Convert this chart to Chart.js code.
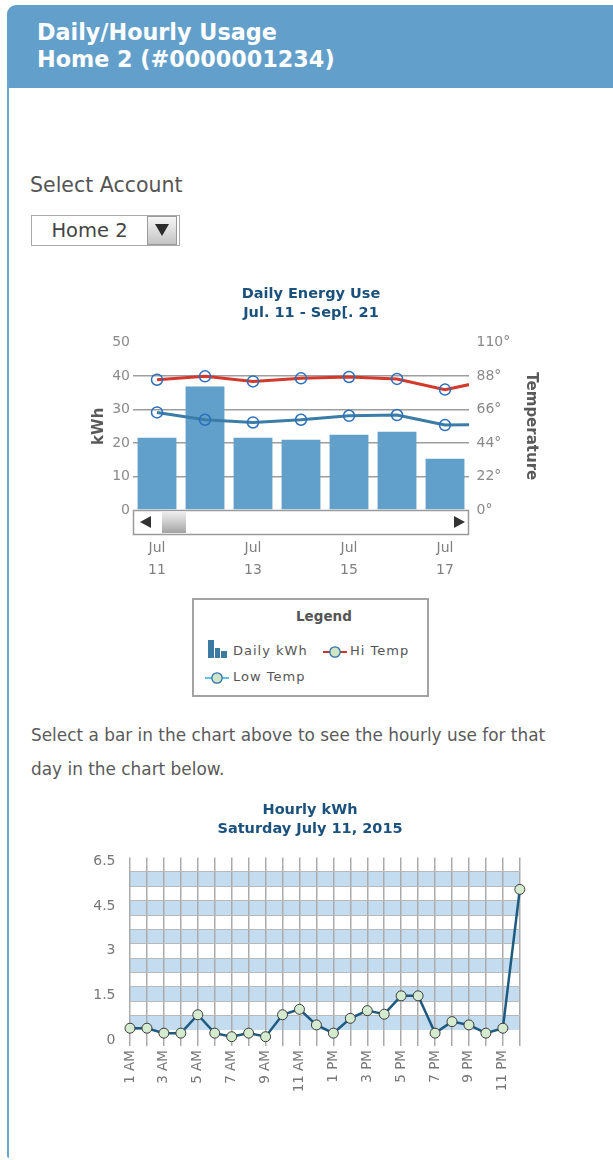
<!DOCTYPE html>
<html>
<head>
<meta charset="utf-8">
<title>Daily/Hourly Usage</title>
<script src="https://cdn.jsdelivr.net/npm/chart.js@4.4.1/dist/chart.umd.min.js"></script>
<style>
  body { margin: 0; width: 613px; height: 1160px; overflow: hidden; background: #fff; font-family: 'DejaVu Sans', Verdana, sans-serif; position: relative; }
  .abs { position: absolute; white-space: nowrap; }
  #header { left: 7px; top: 5px; width: 606px; height: 83px; background: #62a0cb; border-top-left-radius: 9px; }
  #rail { left: 7px; top: 80px; width: 2px; height: 1078px; background: #6aa5cf; border-bottom-left-radius: 3px; }
  #heading { left: 37px; top: 18.5px; color: #fff; font-weight: bold; font-size: 22.3px; line-height: 27px; }
  #selectLabel { left: 30px; top: 170px; font-size: 20.5px; line-height: 30px; color: #555; }
  #select { left: 31px; top: 215px; width: 147px; height: 29px; border: 1px solid #aaa; background: #fff; }
  #select .val { position: absolute; left: 0; top: 0; width: 115px; text-align: center; line-height: 29px; font-size: 19.5px; color: #444; }
  #select .btn { position: absolute; left: 115px; top: 0; width: 28px; height: 27px; border: 1px solid #9a9a9a; background: linear-gradient(#f6f6f6, #c4c4c4); }
  #select .btn i { position: absolute; left: 7px; top: 7px; width: 0; height: 0; border-left: 7px solid transparent; border-right: 7px solid transparent; border-top: 12px solid #2b2b2b; }
  #legend { left: 192px; top: 598px; width: 233px; height: 95px; border: 2px solid #a3a3a3; }
  #legendTitle { left: 296px; top: 607px; font-size: 13.5px; font-weight: bold; line-height: 18px; color: #555; }
  .lg { font-size: 13px; letter-spacing: 1px; line-height: 18px; color: #555; }
  #hint { left: 31px; top: 718px; font-size: 16.9px; line-height: 34px; color: #5a5a5a; }
  canvas { position: absolute; }
</style>
</head>
<body>
<div class="abs" id="header"></div>
<div class="abs" id="rail"></div>
<div class="abs" id="heading">Daily/Hourly Usage<br>Home 2 (#0000001234)</div>

<div class="abs" id="selectLabel">Select Account</div>
<div class="abs" id="select"><div class="val">Home 2</div><div class="btn"><i></i></div></div>

<canvas id="dailyChart" width="458" height="310" style="left:82px;top:280px"></canvas>

<div class="abs" id="legend"></div>
<div class="abs" id="legendTitle">Legend</div>
<svg class="abs" style="left:208px;top:640px" width="19" height="18">
  <rect x="0" y="0" width="6" height="18" fill="#3d7aa2"/>
  <rect x="7" y="8" width="5" height="10" fill="#3d7aa2"/>
  <rect x="13" y="11" width="6" height="7" fill="#3d7aa2"/>
</svg>
<div class="abs lg" style="left:233px;top:642px" data-ds="2"></div>
<svg class="abs" style="left:323px;top:645px" width="24" height="14">
  <line x1="0" y1="7" x2="24" y2="7" stroke="#c8372b" stroke-width="2"/>
  <circle cx="12" cy="7" r="5.2" fill="#cfe6c6" stroke="#2c6eae" stroke-width="1.3"/>
</svg>
<div class="abs lg" style="left:350px;top:642px" data-ds="0"></div>
<svg class="abs" style="left:205px;top:671px" width="24" height="14">
  <line x1="0" y1="7" x2="24" y2="7" stroke="#5cc3ea" stroke-width="2"/>
  <circle cx="12" cy="7" r="5.2" fill="#cfe6c6" stroke="#2c6eae" stroke-width="1.3"/>
</svg>
<div class="abs lg" style="left:233px;top:668px" data-ds="1"></div>

<div class="abs" id="hint">Select a bar in the chart above to see the hourly use for that<br>day in the chart below.</div>

<canvas id="hourlyChart" width="460" height="310" style="left:80px;top:790px"></canvas>

<script>
// daily usage, Jul 11 - 18 (the 8th day is scrolled off, only its line ends show)
const days = [['Jul', '11'], ['Jul', '12'], ['Jul', '13'], ['Jul', '14'], ['Jul', '15'], ['Jul', '16'], ['Jul', '17'], ['Jul', '18']];
const dailyKwh = [21.6, 36.9, 21.6, 21.0, 22.5, 23.4, 15.3];
const hiTemp = [85.6, 87.8, 84.5, 86.5, 87.4, 86.1, 79.1, 85.6];
const lowTemp = [64.1, 59.3, 57.5, 59.3, 61.9, 62.4, 55.8, 56.2];
const dayTicks = [0, 2, 4, 6];
const kwhTicks = [0, 10, 20, 30, 40, 50];
const tempTicks = [0, 22, 44, 66, 88, 110];

// hourly usage for Saturday July 11
const hours = ['1 AM', '2 AM', '3 AM', '4 AM', '5 AM', '6 AM', '7 AM', '8 AM', '9 AM', '10 AM', '11 AM', '12 PM',
    '1 PM', '2 PM', '3 PM', '4 PM', '5 PM', '6 PM', '7 PM', '8 PM', '9 PM', '10 PM', '11 PM', '12 AM'];
const hourlyKwh = [0.43, 0.43, 0.25, 0.25, 0.92, 0.25, 0.12, 0.25, 0.12, 0.92, 1.12, 0.55,
    0.25, 0.79, 1.07, 0.94, 1.61, 1.61, 0.25, 0.67, 0.55, 0.25, 0.43, 5.49];
const hourlyTicks = [0, 1.625, 3.25, 4.875, 6.5];
const hourlyTickLabels = ['0', '1.5', '3', '4.5', '6.5'];

Chart.defaults.font.family = "'DejaVu Sans', Verdana, sans-serif";
Chart.defaults.animation = false;

const titleFont = { size: 14.5, weight: 'bold', lineHeight: 1.33 };
const axisTitleFont = { size: 15, weight: 'bold', lineHeight: 1.2 };
const tickFont = { size: 14 };

// day index -> value pairs, so the scrolled-off day still feeds the line ends
const byDay = arr => arr.map((v, i) => ({ x: i, y: v }));

// fake scroller under the daily plot
const scrollbar = {
    id: 'scrollbar',
    afterDraw(chart) {
        const { ctx, chartArea: a } = chart;
        const top = a.bottom, h = 24;
        ctx.save();
        ctx.fillStyle = '#fff';
        ctx.fillRect(a.left, top, a.right - a.left, h);
        ctx.strokeStyle = '#9a9a9a';
        ctx.lineWidth = 1.5;
        ctx.strokeRect(a.left + 0.5, top + 0.5, a.right - a.left - 1, h);
        const g = ctx.createLinearGradient(0, top, 0, top + h);
        g.addColorStop(0, '#f4f4f4');
        g.addColorStop(0.55, '#c8c8c8');
        g.addColorStop(1, '#9e9e9e');
        ctx.fillStyle = g;
        ctx.fillRect(a.left + 29, top + 1.5, 24, h - 2.5);
        ctx.fillStyle = '#333';
        ctx.beginPath();
        ctx.moveTo(a.left + 7, top + 12); ctx.lineTo(a.left + 18, top + 6); ctx.lineTo(a.left + 18, top + 18);
        ctx.closePath(); ctx.fill();
        ctx.beginPath();
        ctx.moveTo(a.right - 4, top + 12); ctx.lineTo(a.right - 15, top + 6); ctx.lineTo(a.right - 15, top + 18);
        ctx.closePath(); ctx.fill();
        ctx.restore();
    }
};

// alternating blue rows behind the hourly plot
const stripes = {
    id: 'stripes',
    beforeDraw(chart) {
        const s = chart.scales.rows, a = chart.chartArea, ctx = chart.ctx;
        ctx.save();
        ctx.fillStyle = '#c3dcef';
        for (let i = 1; i < s.max; i += 2) {
            const y1 = s.getPixelForValue(i), y2 = s.getPixelForValue(Math.min(i + 1, s.max));
            ctx.fillRect(a.left, y1, a.right - a.left, y2 - y1);
        }
        ctx.restore();
    }
};

const circle = {
    pointRadius: 5.5, pointHoverRadius: 5.5, pointBorderColor: '#2b70bb', pointBorderWidth: 1.5,
    pointBackgroundColor: 'rgba(255,255,255,0)', tension: 0
};

const dailyChart = new Chart(document.getElementById('dailyChart'), {
    type: 'bar',
    data: {
        datasets: [
            { type: 'line', label: 'Hi Temp', data: byDay(hiTemp), yAxisID: 'temp', borderColor: '#d3392c', borderWidth: 3, order: 1, ...circle },
            { type: 'line', label: 'Low Temp', data: byDay(lowTemp), yAxisID: 'temp', borderColor: '#3b7da7', borderWidth: 3, order: 2, ...circle },
            { label: 'Daily kWh', data: byDay(dailyKwh), yAxisID: 'y', backgroundColor: '#61a0cb', categoryPercentage: 1, barPercentage: 0.81, order: 3 }
        ]
    },
    options: {
        responsive: false,
        layout: { padding: 0 },
        events: [],
        plugins: {
            legend: { display: false },
            tooltip: { enabled: false },
            title: {
                display: true, text: ['Daily Energy Use', 'Jul. 11 - Sep[. 21'], color: '#1b517d',
                font: titleFont, padding: { top: 4.25, bottom: 19.75 }
            }
        },
        scales: {
            x: {
                type: 'linear', min: -0.5, max: 6.5, offset: false,
                afterBuildTicks: s => { s.ticks = dayTicks.map(v => ({ value: v })); },
                grid: { display: false, drawTicks: false },
                border: { display: false },
                ticks: {
                    autoSkip: false, maxRotation: 0, padding: 27, color: '#808080',
                    font: { size: 14, lineHeight: 1.57 },
                    callback: v => days[v]
                },
                afterFit: s => { s.height = 80; }
            },
            y: {
                position: 'left', min: kwhTicks[0], max: kwhTicks[kwhTicks.length - 1],
                afterBuildTicks: s => { s.ticks = kwhTicks.map(v => ({ value: v })); },
                ticks: { padding: 3, color: '#8a8a8a', font: tickFont },
                grid: {
                    drawTicks: false, lineWidth: 1.5,
                    color: c => (c.tick.value === kwhTicks[0] || c.tick.value === kwhTicks[kwhTicks.length - 1]) ? 'rgba(0,0,0,0)' : '#9d9d9d'
                },
                border: { display: false },
                title: { display: true, text: 'kWh', color: '#5a5a5a', font: axisTitleFont, padding: { top: 8, bottom: 0 } },
                afterFit: s => { s.width = 51; }
            },
            temp: {
                position: 'right', min: tempTicks[0], max: tempTicks[tempTicks.length - 1],
                afterBuildTicks: s => { s.ticks = tempTicks.map(v => ({ value: v })); },
                ticks: { padding: 7.5, color: '#8a8a8a', font: tickFont, callback: v => v + '°' },
                grid: { display: false, drawTicks: false },
                border: { display: false },
                title: { display: true, text: 'Temperature', color: '#5a5a5a', font: axisTitleFont, padding: { top: 0, bottom: 0 } },
                afterFit: s => { s.width = 71; }
            }
        }
    },
    plugins: [scrollbar]
});

// legend labels come from the chart's datasets
document.querySelectorAll('[data-ds]').forEach(el => {
    el.textContent = dailyChart.data.datasets[Number(el.dataset.ds)].label;
});

new Chart(document.getElementById('hourlyChart'), {
    type: 'line',
    data: {
        labels: hours,
        datasets: [{
            label: 'Hourly kWh', data: hourlyKwh, yAxisID: 'y',
            borderColor: '#1e5b80', borderWidth: 2.5, tension: 0, clip: false,
            pointRadius: 5, pointHoverRadius: 5, pointBackgroundColor: '#d5ebd0',
            pointBorderColor: '#3b3b3b', pointBorderWidth: 1
        }]
    },
    options: {
        responsive: false,
        layout: { padding: 0 },
        events: [],
        plugins: {
            legend: { display: false },
            tooltip: { enabled: false },
            title: {
                display: true, text: ['Hourly kWh', 'Saturday July 11, 2015'], color: '#1b517d',
                font: titleFont, padding: { top: 10.25, bottom: 18.75 }
            }
        },
        scales: {
            x: {
                grid: { color: '#ababab', lineWidth: 1.5, tickLength: 6 },
                border: { display: false },
                ticks: {
                    autoSkip: false, minRotation: 90, maxRotation: 90, padding: 4, color: '#777',
                    font: { size: 13.5 },
                    callback: (v, i) => (i % 2 === 0 && i < hours.length - 1) ? hours[i] : ''
                },
                afterFit: s => { s.height = 60; }
            },
            y: {
                min: 0, max: 6.65,
                afterBuildTicks: s => { s.ticks = hourlyTicks.map(v => ({ value: v })); },
                ticks: { padding: 14.5, color: '#777', font: tickFont, callback: (v, i) => hourlyTickLabels[i] },
                grid: { display: false, drawTicks: false },
                border: { display: false },
                afterFit: s => { s.width = 50; }
            },
            rows: {
                position: 'right', reverse: true, min: 0, max: 12.7,
                ticks: { display: false, stepSize: 1 },
                grid: {
                    drawTicks: false, lineWidth: 1,
                    color: c => (c.tick.value === 0 || c.tick.value > 12.5) ? 'rgba(0,0,0,0)' : '#b9b9b9'
                },
                border: { display: false },
                afterFit: s => { s.width = 16; }
            }
        }
    },
    plugins: [stripes]
});
</script>
</body>
</html>
